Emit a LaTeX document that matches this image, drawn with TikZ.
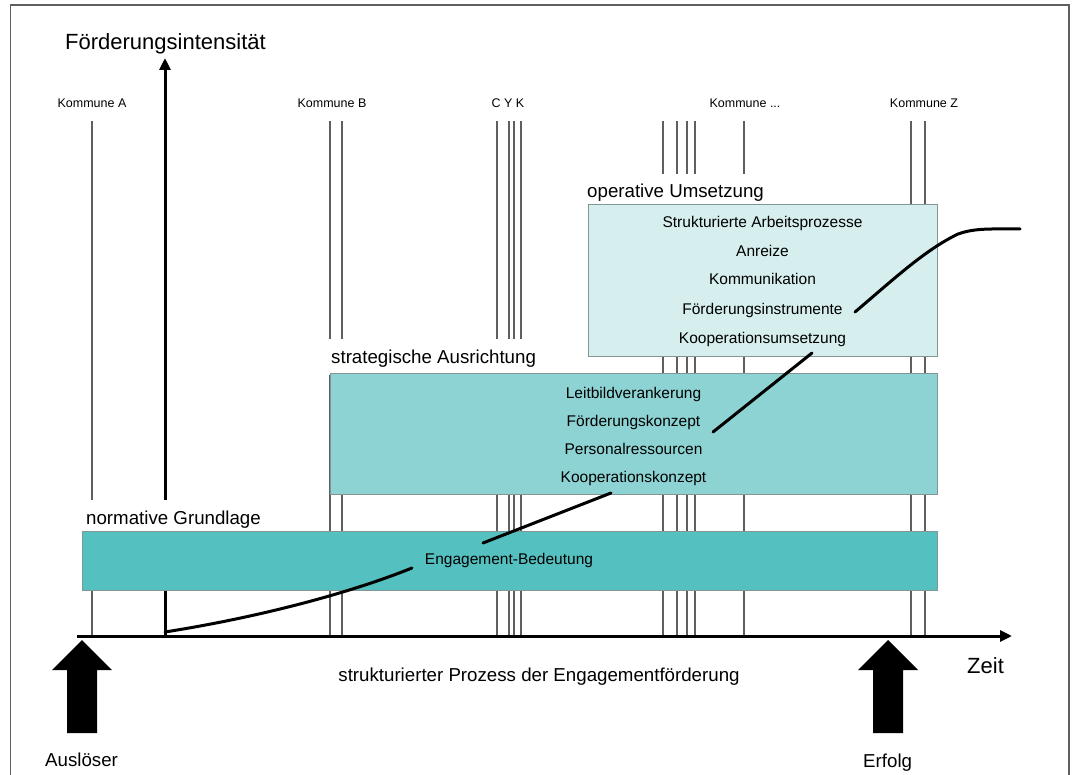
\documentclass[tikz,border=0pt]{standalone}
\usepackage{fontspec}
\setmainfont{Liberation Sans}
\usetikzlibrary{arrows.meta}

\definecolor{normfarbe}{RGB}{84,192,192}
\definecolor{stratfarbe}{RGB}{141,211,211}
\definecolor{opfarbe}{RGB}{214,238,238}
\definecolor{linie}{RGB}{95,95,95}
\definecolor{rand}{RGB}{130,150,150}

\begin{document}
\begin{tikzpicture}[x=1pt,y=-1pt,
    kommune/.style={draw=linie,line width=1.3pt},
    ebene/.style={draw=rand,line width=0.8pt,inner sep=0pt},
    achse/.style={line width=3pt,-{Triangle[length=12pt,width=11pt]}},
    kurve/.style={line width=3pt,line cap=round},
    klein/.style={font=\fontsize{12.5}{14}\selectfont,anchor=base,inner sep=0pt},
    eintrag/.style={font=\fontsize{15.5}{18}\selectfont,anchor=base,inner sep=0pt},
    titel/.style={font=\fontsize{18.7}{22}\selectfont,anchor=base west,inner sep=0pt},
    stufe/.style={titel,fill=white,inner xsep=5pt,text height=24pt,text depth=12pt},
    gross/.style={font=\fontsize{22}{26}\selectfont,anchor=base west,inner sep=0pt}]
            \useasboundingbox (0,0) rectangle (1075,775);
            \draw[linie,line width=1.2pt] (10.5,776) -- (10.5,5) -- (1069,5) -- (1069,776);

            \foreach \x in {92,330,342,497,509,514,521,663,677,687,695,744,911,925}
                \draw[kommune] (\x,121) -- (\x,636);
            \node[klein] (kA) at (92,108) {Kommune A};
            \node[klein] (kB) at (332,108) {Kommune B};
            \node[klein] (kC) at (508,108) {C Y K};
            \node[klein] (kX) at (745,108) {Kommune ...};
            \node[klein] (kZ) at (924,108) {Kommune Z};

            \coordinate (null) at (165,636);
            \coordinate (oben) at (165,58);
            \coordinate (links) at (77,636);
            \coordinate (rechts) at (1012,636);
            \draw[achse] (null) -- (oben);
            \node[gross] (intens) at (65,50) {Förderungsintensität};

            \node[stufe] (lnorm) at (81,524) {normative Grundlage};
            \node[stufe] (lstrat) at (326,363) {strategische Ausrichtung};
            \node[stufe] (lop) at (582,198) {operative Umsetzung};

            \node[ebene,fill=normfarbe,minimum width=855pt,minimum height=59pt] (norm) at (509.5,560.5) {};
            \node[ebene,fill=stratfarbe,minimum width=607pt,minimum height=121pt] (strat) at (633.5,433.5) {};
            \node[ebene,fill=opfarbe,minimum width=349pt,minimum height=152pt] (op) at (762.5,280) {};

            \foreach \t/\y [count=\i] in {Strukturierte Arbeitsprozesse/228,Anreize/257,Kommunikation/285,Förderungsinstrumente/314,Kooperationsumsetzung/343}
                \node[eintrag] (op\i) at (762.5,\y) {\t};
            \foreach \t/\y [count=\i] in {Leitbildverankerung/398,Förderungskonzept/426,Personalressourcen/454,Kooperationskonzept/482}
                \node[eintrag] (strat\i) at (633.5,\y) {\t};
            \node[eintrag] (norm1) at (509,564) {Engagement-Bedeutung};

            \draw[achse] (links) -- (rechts);

            \draw[kurve] (null) ++(0,-4) .. controls (260,617) and (350,593) .. (412,568);
            \draw[kurve] (483,543) -- (611,493);
            \draw[kurve] (713,432) -- (812,353);
            \draw[kurve] (855,312) .. controls (895,278) and (925,250) .. (958,234) .. controls (975,228) and (990,229) .. (1020,229);

            \coordinate (ausloeser) at (82,640);
            \coordinate (erfolg) at (888,640);
            \fill (ausloeser) -- ++(30,30) -- ++(-15,0) -- ++(0,63) -- ++(-30,0) -- ++(0,-63) -- ++(-15,0) -- cycle;
            \fill (erfolg) -- ++(30,30) -- ++(-15,0) -- ++(0,63) -- ++(-30,0) -- ++(0,-63) -- ++(-15,0) -- cycle;

            \node[titel,anchor=base] (prozess) at (539,681) {strukturierter Prozess der Engagementförderung};
            \node[gross] (zeit) at (967,673) {Zeit};
            \node[titel] (lausl) at (45,766) {Auslöser};
            \node[titel] (lerf) at (863,767) {Erfolg};
        \end{tikzpicture}
\end{document}
